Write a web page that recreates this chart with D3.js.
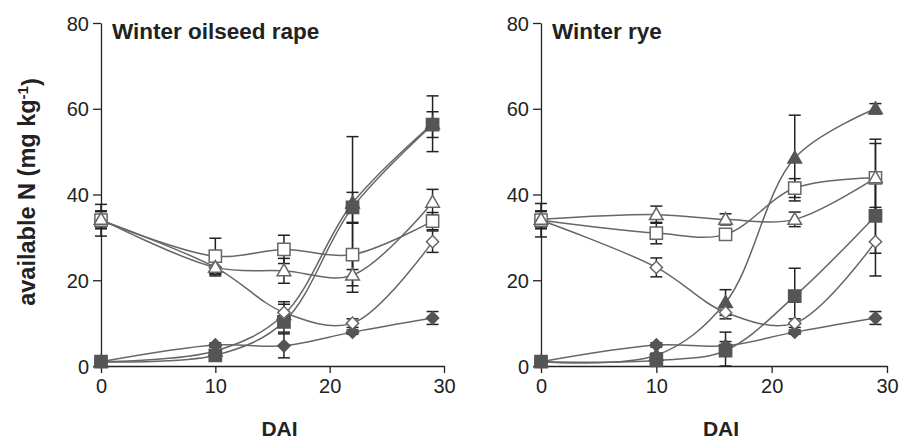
<!DOCTYPE html>
<html>
<head>
<meta charset="utf-8">
<script src="https://cdn.jsdelivr.net/npm/d3@7"></script>
<style>
  body { margin: 0; background: #fff; }
  text { font-family: "Liberation Sans", Arial, sans-serif; fill: #222; }
</style>
</head>
<body>
<div id="chart"></div>
<script>
// sampling days (days after incorporation)
var days = [0, 10, 16, 22, 29];
var xTicks = [0, 10, 20, 30];
var yTicks = [0, 20, 40, 60, 80];
var panelTitles = ["Winter oilseed rape", "Winter rye"];

// series symbols: shape + filled / open (also the drawing order of the markers)
var seriesKeys = ["filledDiamond", "filledTriangle", "filledSquare", "openDiamond", "openSquare", "openTriangle"];

// Winter oilseed rape - means and error bars
var rapeFilledDiamond = [1, 4.9, 4.7, 7.9, 11.2];
var rapeFilledDiamondErr = [0.5, 0.5, 2.8, 0.5, 1.5];
var rapeFilledTriangle = [1, 3.5, 12, 38, 56.5];
var rapeFilledTriangleErr = [0.5, 1, 2.4, 15.5, 6.5];
var rapeFilledSquare = [1, 2.5, 10.3, 37, 56.3];
var rapeFilledSquareErr = [0.5, 1, 2.4, 3.5, 3];
var rapeOpenDiamond = [34, 23, 12.5, 10, 29];
var rapeOpenDiamondErr = [2, 1.5, 2.5, 1, 2.5];
var rapeOpenSquare = [34, 25.6, 27.2, 26, 33.8];
var rapeOpenSquareErr = [3.7, 4.2, 3.3, 7.3, 2];
var rapeOpenTriangle = [34.2, 23, 22.2, 21.2, 38.2];
var rapeOpenTriangleErr = [2, 2, 2.9, 4, 3];

// Winter rye - means and error bars
var ryeFilledDiamond = [1, 4.9, 4.7, 7.9, 11.2];
var ryeFilledDiamondErr = [0.5, 0.5, 1, 0.5, 1.5];
var ryeFilledTriangle = [1, 2.5, 14.8, 48.5, 60];
var ryeFilledTriangleErr = [0.5, 0.5, 3, 10, 1.2];
var ryeFilledSquare = [1, 1.3, 3.6, 16.3, 35];
var ryeFilledSquareErr = [0.5, 0.5, 4.3, 6.5, 8.7];
var ryeOpenDiamond = [34, 23, 12.5, 10, 29];
var ryeOpenDiamondErr = [2, 2.2, 1.5, 1, 8];
var ryeOpenSquare = [34, 31, 30.7, 41.5, 43.9];
var ryeOpenSquareErr = [3.9, 2.5, 1, 2.2, 9];
var ryeOpenTriangle = [34.2, 35.3, 34.2, 34.2, 43.9];
var ryeOpenTriangleErr = [2, 2, 1.3, 1.7, 8];

var panelValues = [
  [rapeFilledDiamond, rapeFilledTriangle, rapeFilledSquare, rapeOpenDiamond, rapeOpenSquare, rapeOpenTriangle],
  [ryeFilledDiamond, ryeFilledTriangle, ryeFilledSquare, ryeOpenDiamond, ryeOpenSquare, ryeOpenTriangle]
];
var panelErrors = [
  [rapeFilledDiamondErr, rapeFilledTriangleErr, rapeFilledSquareErr, rapeOpenDiamondErr, rapeOpenSquareErr, rapeOpenTriangleErr],
  [ryeFilledDiamondErr, ryeFilledTriangleErr, ryeFilledSquareErr, ryeOpenDiamondErr, ryeOpenSquareErr, ryeOpenTriangleErr]
];

var w = 900, h = 439;
var dark = "#555", lineCol = "#666", axisCol = "#222";

var svg = d3.select("#chart")
    .append("svg")
    .attr("width", w)
    .attr("height", h);

// horizontal extent of the two plot areas
var panelX = [[101, 444], [541, 887]];

var y = d3.scaleLinear().domain([0, 80]).range([366, 23]);

function symbolPath(key) {
    if (key.indexOf("Square") >= 0) return d3.symbol(d3.symbolSquare, 150)();
    if (key.indexOf("Triangle") >= 0) return d3.symbol(d3.symbolTriangle, 80)();
    return d3.symbol(d3.symbolSquare, 75)();
}

panelTitles.forEach(function (title, p) {
    var x = d3.scaleLinear().domain([0, 30]).range(panelX[p]);
    var g = svg.append("g");

    // axes
    var yAxis = g.append("g")
        .attr("transform", "translate(" + panelX[p][0] + ",0)")
        .call(d3.axisLeft(y).tickValues(yTicks).tickSize(8).tickSizeOuter(0).tickPadding(4));
    var xAxis = g.append("g")
        .attr("transform", "translate(0," + y(0) + ")")
        .call(d3.axisBottom(x).tickValues(xTicks).tickSize(7).tickSizeOuter(0).tickPadding(6));
    [xAxis, yAxis].forEach(function (a) {
        a.selectAll("path, line").attr("stroke", axisCol).attr("stroke-width", 1.3);
        a.selectAll("text").style("font-size", "20px").attr("fill", axisCol);
    });
    yAxis.selectAll("text").attr("dy", "0.35em");

    var line = d3.line()
        .x(function (d, i) { return x(days[i]); })
        .y(function (d) { return y(d); })
        .curve(d3.curveCatmullRom.alpha(0.5));

    // smoothed lines
    panelValues[p].forEach(function (vals) {
        g.append("path")
            .attr("d", line(vals))
            .attr("fill", "none")
            .attr("stroke", lineCol)
            .attr("stroke-width", 1.5);
    });

    // error bars
    panelValues[p].forEach(function (vals, s) {
        var err = panelErrors[p][s];
        vals.forEach(function (v, i) {
            var cx = x(days[i]);
            var y1 = y(v + err[i]), y2 = y(Math.max(0, v - err[i]));
            g.append("line").attr("x1", cx).attr("x2", cx).attr("y1", y1).attr("y2", y2)
                .attr("stroke", axisCol).attr("stroke-width", 1.5);
            [y1, y2].forEach(function (yy) {
                g.append("line").attr("x1", cx - 6).attr("x2", cx + 6).attr("y1", yy).attr("y2", yy)
                    .attr("stroke", axisCol).attr("stroke-width", 1.5);
            });
        });
    });

    // markers
    panelValues[p].forEach(function (vals, s) {
        var key = seriesKeys[s];
        var filled = key.indexOf("filled") === 0;
        g.selectAll(".m" + s)
            .data(vals)
            .enter()
            .append("path")
            .attr("d", symbolPath(key))
            .attr("transform", function (d, i) {
                var t = "translate(" + x(days[i]) + "," + y(d) + ")";
                if (key.indexOf("Diamond") >= 0) t += " rotate(45)";
                if (key.indexOf("Triangle") >= 0) t += " translate(0,1)";
                return t;
            })
            .attr("fill", filled ? dark : "#fff")
            .attr("stroke", filled ? dark : lineCol)
            .attr("stroke-width", 1.5);
    });

    // panel title
    g.append("text")
        .attr("x", panelX[p][0] + 11)
        .attr("y", 39)
        .style("font-size", "22.5px")
        .style("font-weight", "bold")
        .text(title);

    // x axis title
    g.append("text")
        .attr("x", (panelX[p][0] + panelX[p][1]) / 2 + 7)
        .attr("y", 436)
        .attr("text-anchor", "middle")
        .style("font-size", "21px")
        .style("font-weight", "bold")
        .text("DAI");
});

// y axis title
var yl = svg.append("text")
    .attr("transform", "translate(35,192) rotate(-90)")
    .attr("text-anchor", "middle")
    .style("font-size", "23.5px")
    .style("font-weight", "bold");
yl.append("tspan").text("available N (mg kg");
yl.append("tspan").attr("dy", "-0.5em").style("font-size", "15px").text("-1");
yl.append("tspan").attr("dy", "0.5em").text(")");
</script>
</body>
</html>
